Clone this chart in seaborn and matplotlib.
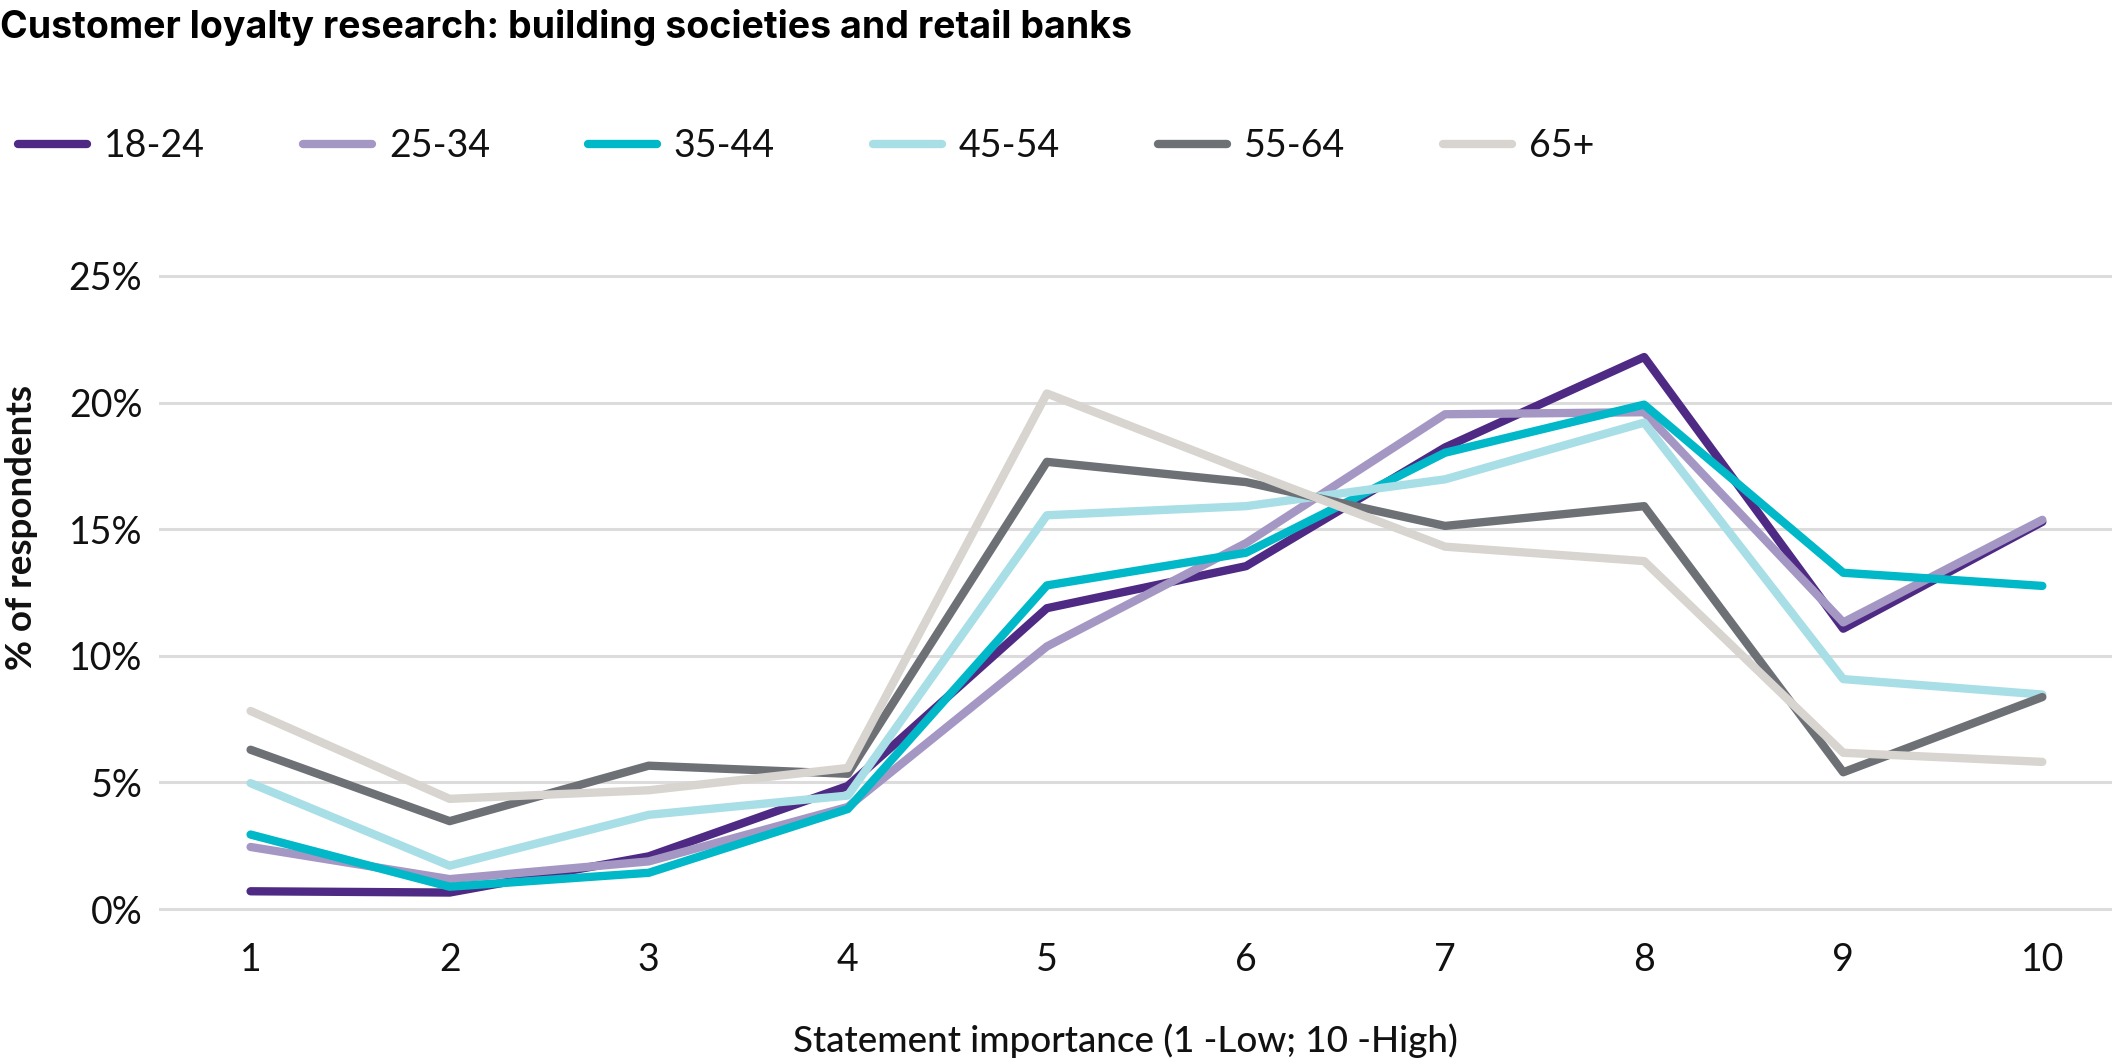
import matplotlib
matplotlib.use("Agg")
import matplotlib.pyplot as plt
import seaborn as sns
import pandas as pd
from matplotlib.ticker import FuncFormatter

# ---- data ----
importance = [1, 2, 3, 4, 5, 6, 7, 8, 9, 10]
age_groups = ["18-24", "25-34", "35-44", "45-54", "55-64", "65+"]
age_18_24 = [0.70, 0.65, 2.08, 4.86, 11.88, 13.54, 18.23, 21.80, 11.07, 15.29]
age_25_34 = [2.45, 1.18, 1.88, 4.03, 10.37, 14.45, 19.54, 19.62, 11.32, 15.37]
age_35_44 = [2.94, 0.88, 1.43, 3.95, 12.78, 14.07, 18.02, 19.92, 13.28, 12.76]
age_45_54 = [4.97, 1.71, 3.72, 4.48, 15.55, 15.91, 16.97, 19.21, 9.08, 8.47]
age_55_64 = [6.29, 3.47, 5.66, 5.34, 17.66, 16.86, 15.13, 15.91, 5.40, 8.37]
age_65_plus = [7.82, 4.35, 4.69, 5.57, 20.36, 17.30, 14.31, 13.74, 6.17, 5.81]
y_ticks = [0, 5, 10, 15, 20, 25]

colors = ["#4E2A84", "#A597C4", "#00B8C8", "#A8DEE6", "#6D7075", "#D8D4CF"]

series = [age_18_24, age_25_34, age_35_44, age_45_54, age_55_64, age_65_plus]
rows = []
for g, vals in zip(age_groups, series):
    for x, v in zip(importance, vals):
        rows.append({"importance": x, "pct": v, "age": g})
df = pd.DataFrame(rows)

sns.set_theme(style="white")
plt.rcParams["font.family"] = ["Lato", "DejaVu Sans"]
plt.rcParams["lines.solid_capstyle"] = "round"

W, H = 2112, 1064
fig = plt.figure(figsize=(W / 100, H / 100), dpi=100)

# axes placement (pixel based)
ymin, ymax = -0.5, 25.5
px_per = (909 - 276) / 25.0
bot_px = 909 + 0.5 * px_per
top_px = 276 - 0.5 * px_per
left_px = 159
ax = fig.add_axes([left_px / W, (H - bot_px) / H, (W - left_px) / W, (bot_px - top_px) / H])

sns.lineplot(data=df, x="importance", y="pct", hue="age", hue_order=age_groups,
             palette=dict(zip(age_groups, colors)), linewidth=6.0, ax=ax, legend=False)

ax.set_xlim(0.54, 10.35)
ax.set_ylim(ymin, ymax)
ax.set_xticks(importance)
ax.set_yticks(y_ticks)
ax.yaxis.set_major_formatter(FuncFormatter(lambda v, p: f"{int(v)}%"))
ax.grid(axis="y", color="#DCDCDC", linewidth=2.2)
ax.grid(axis="x", visible=False)
for s in ax.spines.values():
    s.set_visible(False)
ax.tick_params(axis="both", length=0, labelsize=27, labelcolor="#111111")
ax.tick_params(axis="x", pad=15)
ax.tick_params(axis="y", pad=12)

ax.set_xlabel("Statement importance (1 -Low; 10 -High)", fontsize=26.5, fontweight="medium",
              color="#111111", va="center")
ax.xaxis.set_label_coords((1125 - left_px) / (W - left_px), -(1041 - bot_px) / (bot_px - top_px))
ax.set_ylabel("% of respondents", fontsize=26.5, fontweight="bold", color="#111111", va="center")
ax.yaxis.set_label_coords(-(left_px - 22) / (W - left_px), (bot_px - 528) / (bot_px - top_px))

fig.text(0.0, 1 - 9 / H, "Customer loyalty research: building societies and retail banks",
         fontsize=27, fontweight="bold", ha="left", va="top", color="#000000",
         family=["Inter", "DejaVu Sans"])

handles = [plt.Line2D([], [], color=c, linewidth=6.0, solid_capstyle="round") for c in colors]
leg = fig.legend(handles, age_groups, loc="center left", bbox_to_anchor=(18 / W, 1 - 146 / H),
                 ncol=6, frameon=False, fontsize=27, handlelength=1.85, handletextpad=0.45,
                 columnspacing=2.6, borderaxespad=0, borderpad=0)
for t in leg.get_texts():
    t.set_color("#111111")

fig.savefig("out.png", dpi=100)
